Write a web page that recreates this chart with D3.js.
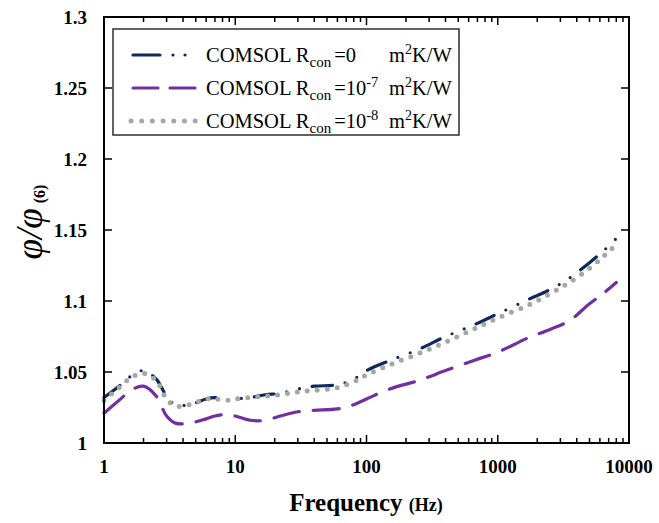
<!DOCTYPE html>
<html>
<head>
<meta charset="utf-8">
<script src="https://cdn.jsdelivr.net/npm/d3@7"></script>
<style>
  html, body { margin: 0; padding: 0; background: #fff; }
  svg { display: block; }
  text { font-family: "Liberation Serif", "Times New Roman", serif; }
</style>
</head>
<body>
<svg id="chart" width="659" height="523"></svg>
<script>
// ---------------- DATA ----------------
const freq = [1, 1.3, 1.6, 2, 2.5, 3, 3.5, 4.5, 6, 7, 8.5, 10, 13, 17, 22, 30, 40, 60, 80, 100, 150, 250, 400, 650, 1000, 1700, 2500, 3500, 5000, 6500, 8000];
const rcon0 = [1.032, 1.040, 1.047, 1.051, 1.045, 1.033, 1.027, 1.027, 1.031, 1.032, 1.030, 1.031, 1.032, 1.034, 1.035, 1.038, 1.040, 1.041, 1.045, 1.051, 1.058, 1.066, 1.075, 1.083, 1.091, 1.101, 1.108, 1.116, 1.127, 1.136, 1.144];
const rcon7 = [1.021, 1.030, 1.037, 1.040, 1.033, 1.019, 1.014, 1.014, 1.017, 1.019, 1.020, 1.019, 1.016, 1.016, 1.019, 1.022, 1.023, 1.024, 1.027, 1.031, 1.038, 1.044, 1.051, 1.058, 1.064, 1.074, 1.080, 1.086, 1.098, 1.106, 1.113];
const rcon8 = [1.030, 1.039, 1.046, 1.049, 1.044, 1.031, 1.026, 1.027, 1.031, 1.031, 1.030, 1.031, 1.032, 1.033, 1.034, 1.036, 1.037, 1.039, 1.043, 1.048, 1.055, 1.063, 1.071, 1.080, 1.088, 1.097, 1.105, 1.113, 1.123, 1.132, 1.140];
const xTickValues = [1, 10, 100, 1000, 10000];
const xTickLabels = ["1", "10", "100", "1000", "10000"];
const yTickValues = [1, 1.05, 1.1, 1.15, 1.2, 1.25, 1.3];
const yTickLabels = ["1", "1.05", "1.1", "1.15", "1.2", "1.25", "1.3"];
const seriesNames = ["=0", "=10", "=10"];
const seriesExp = ["", "-7", "-8"];

// ---------------- LAYOUT ----------------
const svg = d3.select("#chart");
const L = 104, R = 629, T = 17, B = 443;
const x = d3.scaleLog().domain([1, 10000]).range([L, R]);
const y = d3.scaleLinear().domain([1, 1.3]).range([B, T]);

const series = [
  { vals: rcon0, color: "#11285a", width: 3.2, dash: "20,13,0,13,0,13", cap: "round" },
  { vals: rcon7, color: "#7030a0", width: 3.2, dash: "26,14", cap: "round" },
  { vals: rcon8, color: "#a6a6a6", width: 5, dash: "0,10", cap: "round" }
];

// ---------------- LINES ----------------
const line = d3.line().x(d => x(d[0])).y(d => y(d[1])).curve(d3.curveCatmullRom.alpha(0.5));
const drawOrder = [1, 0, 2];
drawOrder.forEach(i => {
  const s = series[i];
  svg.append("path")
    .attr("d", line(freq.map((f, j) => [f, s.vals[j]])))
    .attr("fill", "none")
    .attr("stroke", s.color)
    .attr("stroke-width", s.width)
    .attr("stroke-dasharray", s.dash)
    .attr("stroke-linecap", s.cap);
});

// ---------------- AXES / FRAME ----------------
const g = svg.append("g");
const xt = [];
for (let d = 1; d < 10000; d *= 10) {
  for (let k = 2; k <= 9; k++) xt.push({ v: d * k, major: false });
  if (d > 1) xt.push({ v: d, major: true });
}
xt.forEach(t => {
  const px = x(t.v), len = t.major ? 8 : 5;
  g.append("line").attr("x1", px).attr("x2", px).attr("y1", B).attr("y2", B - len)
    .attr("stroke", "#000").attr("stroke-width", 1.5);
  g.append("line").attr("x1", px).attr("x2", px).attr("y1", T).attr("y2", T + len)
    .attr("stroke", "#000").attr("stroke-width", 1.5);
});
yTickValues.forEach(v => {
  const py = y(v);
  g.append("line").attr("x1", L).attr("x2", L + 8).attr("y1", py).attr("y2", py)
    .attr("stroke", "#000").attr("stroke-width", 1.5);
  g.append("line").attr("x1", R).attr("x2", R - 8).attr("y1", py).attr("y2", py)
    .attr("stroke", "#000").attr("stroke-width", 1.5);
});
g.append("rect").attr("x", L).attr("y", T).attr("width", R - L).attr("height", B - T)
  .attr("fill", "none").attr("stroke", "#000").attr("stroke-width", 2);

// tick labels
xTickValues.forEach((v, i) => {
  svg.append("text").attr("x", x(v)).attr("y", 473)
    .attr("text-anchor", "middle").attr("font-size", 19).attr("font-weight", "bold")
    .text(xTickLabels[i]);
});
yTickValues.forEach((v, i) => {
  svg.append("text").attr("x", 87).attr("y", y(v) + 6.5)
    .attr("text-anchor", "end").attr("font-size", 19).attr("font-weight", "bold")
    .text(yTickLabels[i]);
});

// axis titles
const xt2 = svg.append("text").attr("x", 366).attr("y", 511)
  .attr("text-anchor", "middle").attr("font-weight", "bold");
xt2.append("tspan").attr("font-size", 25).text("Frequency ");
xt2.append("tspan").attr("font-size", 18).text("(Hz)");

const yt = svg.append("text").attr("transform", "translate(42,222) rotate(-90)")
  .attr("text-anchor", "middle");
yt.append("tspan").attr("font-size", 37).attr("font-style", "italic").text("φ/φ");
yt.append("tspan").attr("font-size", 16).attr("font-weight", "bold").attr("dy", 3).attr("dx", 5).text("(6)");

// ---------------- LEGEND ----------------
svg.append("rect").attr("x", 113).attr("y", 29).attr("width", 346).attr("height", 106)
  .attr("fill", "#fff").attr("stroke", "#3a3a3a").attr("stroke-width", 1.6);
const baselines = [62, 95, 128];
const textX = 206;
series.forEach((s, i) => {
  const by = baselines[i];
  svg.append("line").attr("x1", i === 2 ? 131 : 133).attr("x2", 196).attr("y1", by - 7).attr("y2", by - 7)
    .attr("stroke", s.color).attr("stroke-width", s.width)
    .attr("stroke-dasharray", i === 0 ? "27,13,0,12,0,12" : (i === 1 ? "25,12" : "0,10.7"))
    .attr("stroke-linecap", s.cap);
  const t = svg.append("text").attr("x", textX).attr("y", by).attr("font-size", 20.5);
  t.append("tspan").text("COMSOL R");
  t.append("tspan").attr("font-size", 15).attr("dy", 5).text("con");
  t.append("tspan").attr("dy", -5).attr("dx", 3).text(seriesNames[i]);
  if (seriesExp[i]) t.append("tspan").attr("font-size", 14.5).attr("dy", -8).text(seriesExp[i]);
});
// units: aligned column
const unitX = 389;
baselines.forEach((by, i) => {
  const u = svg.append("text").attr("x", unitX).attr("y", by).attr("font-size", 20.5);
  u.append("tspan").text("m");
  u.append("tspan").attr("font-size", 14).attr("dy", -8).text("2");
  u.append("tspan").attr("dy", 8).text("K/W");
});
</script>
</body>
</html>
